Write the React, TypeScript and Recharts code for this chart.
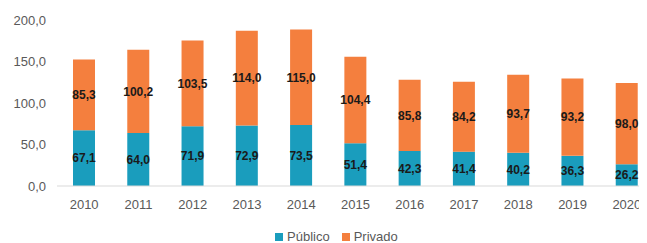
import React from "react";
import { BarChart, Bar, XAxis, YAxis, LabelList, Legend } from "recharts";

const years = ["2010", "2011", "2012", "2013", "2014", "2015", "2016", "2017", "2018", "2019", "2020"];
const publico = [67.1, 64.0, 71.9, 72.9, 73.5, 51.4, 42.3, 41.4, 40.2, 36.3, 26.2];
const privado = [85.3, 100.2, 103.5, 114.0, 115.0, 104.4, 85.8, 84.2, 93.7, 93.2, 98.0];
const yTicks = [0, 50, 100, 150, 200];

const data = years.map((y, i) => ({ year: y, publico: publico[i], privado: privado[i] }));

const fmt = (v: number) => v.toFixed(1).replace(".", ",");

const TEAL = "#1a9dbd";
const ORANGE = "#f47f3e";
const FONT = "'Liberation Sans', Arial, sans-serif";

const legendContent = () => (
  <div style={{ display: "flex", alignItems: "center", fontFamily: FONT, fontSize: 13, color: "#595959" }}>
    <span style={{ display: "inline-block", width: 8, height: 8, background: TEAL, marginRight: 4 }} />
    <span style={{ marginRight: 12 }}>Público</span>
    <span style={{ display: "inline-block", width: 8, height: 8, background: ORANGE, marginRight: 4 }} />
    <span>Privado</span>
  </div>
);

export default function App() {
  return (
    <div style={{ marginLeft: -8, marginTop: -8, width: 647, height: 243, overflow: "hidden", background: "#fff" }}>
      <BarChart
        width={660}
        height={243}
        data={data}
        margin={{ top: 20, right: 6, left: 0, bottom: 27 }}
        barSize={22}
      >
        <XAxis
          dataKey="year"
          axisLine={{ stroke: "#d9d9d9" }}
          tickLine={false}
          tick={{ fill: "#595959", fontSize: 13, fontFamily: FONT }}
          tickMargin={8}
          height={30}
        />
        <YAxis
          width={57}
          domain={[0, 200]}
          ticks={yTicks}
          tickFormatter={fmt}
          axisLine={false}
          tickLine={false}
          tickMargin={5}
          tick={{ fill: "#595959", fontSize: 13, fontFamily: FONT }}
        />
        <Legend
          verticalAlign="middle"
          layout="horizontal"
          content={legendContent}
          wrapperStyle={{ top: 229, left: 275, width: 140, height: 16 }}
        />
        <Bar dataKey="publico" stackId="a" fill={TEAL} isAnimationActive={false}>
          <LabelList dataKey="publico" position="center" formatter={(v: any) => fmt(Number(v))}
            style={{ fill: "#1a1a1a", fontSize: 12, fontWeight: 700, fontFamily: FONT }} />
        </Bar>
        <Bar dataKey="privado" stackId="a" fill={ORANGE} isAnimationActive={false}>
          <LabelList dataKey="privado" position="center" formatter={(v: any) => fmt(Number(v))}
            style={{ fill: "#1a1a1a", fontSize: 12, fontWeight: 700, fontFamily: FONT }} />
        </Bar>
      </BarChart>
    </div>
  );
}
